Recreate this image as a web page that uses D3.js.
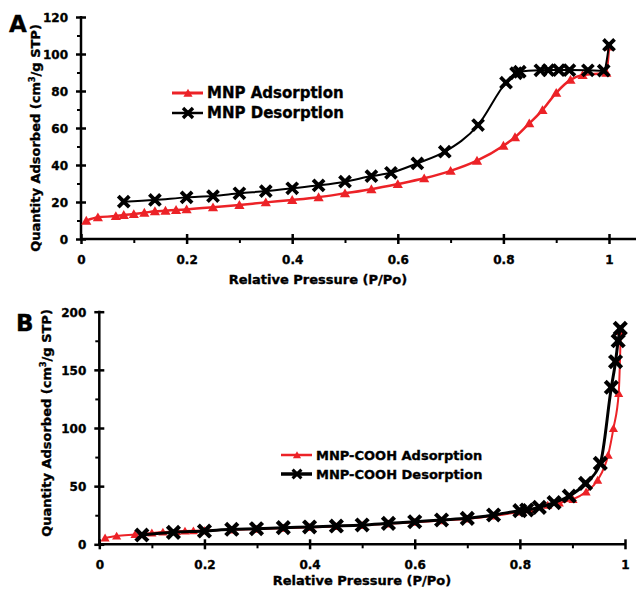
<!DOCTYPE html>
<html lang="en">
<head>
<meta charset="UTF-8">
<title>BET isotherms</title>
<script src="https://d3js.org/d3.v7.min.js"></script>
<style>
    html, body {
        margin: 0;
        padding: 0;
        background: #ffffff;
    }
    svg text {
        font-family: "DejaVu Sans", sans-serif;
        font-weight: bold;
        fill: #000;
        stroke: #000;
        stroke-width: 0.35px;
    }
</style>
</head>
<body>
<svg id="chart" width="636" height="589"></svg>
<script>
    // panel A: MNP
    const pA_ads = [0.01, 0.032, 0.066, 0.081, 0.1, 0.12, 0.14, 0.16, 0.18, 0.2, 0.25, 0.3, 0.35, 0.4, 0.45, 0.5, 0.55, 0.6, 0.65, 0.7, 0.75, 0.8, 0.822, 0.849, 0.874, 0.9, 0.927, 0.95, 0.995, 1.0];
    const qA_ads = [9.9, 11.7, 12.4, 13, 13.5, 14.2, 15, 15.3, 15.7, 16, 17.1, 18.4, 19.8, 21.1, 22.6, 24.7, 26.9, 29.7, 32.8, 36.8, 42.3, 50.4, 55, 62.5, 69.7, 79, 86, 88.6, 89.9, 104];
    const pA_des = [0.081, 0.14, 0.2, 0.25, 0.3, 0.35, 0.4, 0.45, 0.5, 0.55, 0.587, 0.637, 0.689, 0.752, 0.805, 0.824, 0.831, 0.87, 0.885, 0.905, 0.925, 0.96, 0.99, 1.0];
    const qA_des = [20.2, 21.1, 22.5, 23.2, 24.7, 25.9, 27.4, 29, 31, 34, 35.8, 40.9, 47.2, 61.6, 84.5, 89.6, 90.4, 91.2, 91.3, 91.3, 91.3, 91.2, 91, 104.9];

    // panel B: MNP-COOH
    const pB_ads = [0.011, 0.033, 0.068, 0.1, 0.121, 0.147, 0.163, 0.179, 0.2, 0.25, 0.3, 0.35, 0.4, 0.45, 0.5, 0.55, 0.6, 0.65, 0.7, 0.75, 0.8, 0.82, 0.853, 0.875, 0.901, 0.926, 0.948, 0.968, 0.978, 0.988, 0.992];
    const qB_ads = [5.5, 7.2, 8.5, 9.8, 10.6, 11.2, 11.5, 11.7, 11.8, 12.5, 13.1, 13.9, 14.6, 15.4, 16.3, 17.6, 19, 20.4, 21.8, 24.5, 28, 29.8, 33.8, 35.6, 38.7, 45.2, 55.3, 76.8, 99.7, 129.8, 183];
    const pB_des = [0.081, 0.141, 0.2, 0.252, 0.299, 0.35, 0.4, 0.451, 0.5, 0.55, 0.6, 0.651, 0.7, 0.75, 0.8, 0.813, 0.837, 0.865, 0.894, 0.925, 0.953, 0.974, 0.982, 0.987, 0.991];
    const qB_des = [8, 10.3, 11.4, 12.9, 13.4, 14.3, 14.9, 15.7, 16.6, 18, 19.4, 20.9, 22.3, 25.2, 28.9, 29.5, 31.8, 35.8, 41.5, 52.4, 69.6, 135, 157, 175, 185.7];

    const xMajor = [0, 0.2, 0.4, 0.6, 0.8, 1];
    const xMinor = [0.1, 0.3, 0.5, 0.7, 0.9];
    const yMajorA = [0, 20, 40, 60, 80, 100, 120];
    const yMinorA = [10, 30, 50, 70, 90, 110];
    const yMajorB = [0, 50, 100, 150, 200];
    const yMinorB = [25, 75, 125, 175];

    const legendA = ["MNP Adsorption", "MNP Desorption"];
    const legendB = ["MNP-COOH Adsorption", "MNP-COOH Desorption"];

    const RED = "#ec2227";
    const svg = d3.select("#chart");

    function zip(ps, qs) {
        return ps.map((p, i) => ({ p: p, q: qs[i] }));
    }

    function drawMarker(g, type, cx, cy, s) {
        if (type === "tri") {
            g.append("path")
                .attr("d", d3.symbol(d3.symbolTriangle, s * s * 0.45)())
                .attr("transform", `translate(${cx},${cy + 1})`)
                .attr("fill", RED);
        } else {
            const h = s * 0.42;
            g.append("path")
                .attr("d", `M${-h},${-h}L${h},${h}M${-h},${h}L${h},${-h}`)
                .attr("transform", `translate(${cx},${cy})`)
                .attr("stroke", "#000")
                .attr("stroke-width", s * 0.38)
                .attr("stroke-linecap", "square");
            g.append("rect")
                .attr("x", cx - s * 0.27).attr("y", cy - s * 0.27)
                .attr("width", s * 0.54).attr("height", s * 0.54)
                .attr("fill", "#000");
        }
    }

    function drawPanel(cfg) {
        const g = svg.append("g");
        const x = d3.scaleLinear().domain([0, 1]).range([cfg.x0, cfg.x1]);
        const y = d3.scaleLinear().domain([0, cfg.yMax]).range([cfg.y0, cfg.y1]);

        // x axis
        const xAxis = g.append("g").attr("transform", `translate(0,${cfg.y0})`)
            .call(d3.axisBottom(x).tickValues(xMajor).tickFormat(d => String(d)).tickSizeOuter(0));
        xAxis.select(".domain").remove();
        xAxis.selectAll(".tick line").attr("y1", -5).attr("y2", 5).attr("stroke-width", 2.5);
        xAxis.selectAll(".tick text").attr("y", cfg.xLabelDy).attr("dy", null)
            .attr("font-size", 12).style("font-family", "DejaVu Sans").style("font-weight", "bold");
        g.append("g").attr("transform", `translate(0,${cfg.y0})`)
            .call(d3.axisBottom(x).tickValues(xMinor).tickFormat("").tickSize(4).tickSizeOuter(0))
            .call(a => a.select(".domain").remove())
            .selectAll(".tick line").attr("stroke-width", 2);
        g.append("line")
            .attr("x1", cfg.x0 - 1).attr("x2", cfg.xEnd)
            .attr("y1", cfg.y0).attr("y2", cfg.y0)
            .attr("stroke", "#000").attr("stroke-width", 2.5);

        // y axis
        const yAxis = g.append("g").attr("transform", `translate(${cfg.x0},0)`)
            .call(d3.axisLeft(y).tickValues(cfg.yMajor).tickSizeOuter(0));
        yAxis.select(".domain").remove();
        yAxis.selectAll(".tick line").attr("x1", -5).attr("x2", 5).attr("stroke-width", 2.5);
        yAxis.selectAll(".tick text").attr("x", cfg.yLabelDx).attr("dy", "0.36em")
            .attr("font-size", 12).style("font-family", "DejaVu Sans").style("font-weight", "bold");
        g.append("g").attr("transform", `translate(${cfg.x0},0)`)
            .call(d3.axisLeft(y).tickValues(cfg.yMinor).tickFormat("").tickSize(4).tickSizeOuter(0))
            .call(a => a.select(".domain").remove())
            .selectAll(".tick line").attr("stroke-width", 2);
        g.append("line")
            .attr("x1", cfg.x0).attr("x2", cfg.x0)
            .attr("y1", cfg.y1 - 1).attr("y2", cfg.y0 + 1)
            .attr("stroke", "#000").attr("stroke-width", 2.5);

        // series
        const line = d3.line().x(d => x(d.p)).y(d => y(d.q)).curve(d3.curveMonotoneX);
        const ads = zip(cfg.pAds, cfg.qAds);
        const des = zip(cfg.pDes, cfg.qDes);
        g.append("path").datum(ads).attr("d", line)
            .attr("fill", "none").attr("stroke", RED).attr("stroke-width", cfg.redWidth);
        ads.forEach(d => drawMarker(g, "tri", x(d.p), y(d.q), cfg.triSize));
        g.append("path").datum(des).attr("d", line)
            .attr("fill", "none").attr("stroke", "#000").attr("stroke-width", cfg.blackWidth);
        des.forEach(d => drawMarker(g, "x", x(d.p), y(d.q), cfg.xSize));

        // legend
        cfg.legend.forEach((name, i) => {
            const ly = cfg.legY + i * cfg.legGap;
            const isAds = i === 0;
            g.append("line")
                .attr("x1", cfg.legX).attr("x2", cfg.legX + 31)
                .attr("y1", ly).attr("y2", ly)
                .attr("stroke", isAds ? RED : "#000")
                .attr("stroke-width", isAds ? cfg.redWidth + 0.5 : cfg.blackWidth + 0.5);
            drawMarker(g, isAds ? "tri" : "x", cfg.legX + 16, ly, cfg.legMarker);
            g.append("text")
                .attr("x", cfg.legX + 35).attr("y", ly)
                .attr("dy", "0.36em")
                .attr("font-size", cfg.legFont)
                .text(name);
        });

        // axis titles
        g.append("text")
            .attr("x", cfg.xTitleX).attr("y", cfg.xTitleY)
            .attr("text-anchor", "middle").attr("font-size", 13)
            .text("Relative Pressure (P/Po)");
        const yt = g.append("text")
            .attr("transform", `translate(${cfg.yTitleX},${cfg.yTitleY}) rotate(-90)`)
            .attr("text-anchor", "middle").attr("font-size", 13);
        yt.append("tspan").text("Quantity Adsorbed (cm");
        yt.append("tspan").attr("dy", -5).attr("font-size", 8).text("3");
        yt.append("tspan").attr("dy", 5).text("/g STP)");

        g.append("text")
            .attr("x", cfg.tagX).attr("y", cfg.tagY)
            .attr("font-size", 23)
            .text(cfg.tag);
    }

    drawPanel({
        tag: "A", tagX: 9, tagY: 32,
        x0: 81, x1: 609, xEnd: 636, y0: 239, y1: 17, yMax: 120,
        yMajor: yMajorA, yMinor: yMinorA,
        xLabelDy: 25, yLabelDx: -13,
        pAds: pA_ads, qAds: qA_ads, pDes: pA_des, qDes: qA_des,
        redWidth: 2.5, blackWidth: 2, triSize: 10, xSize: 10,
        legend: legendA, legX: 172, legY: 93, legGap: 20, legFont: 15, legMarker: 9,
        xTitleX: 318, xTitleY: 284, yTitleX: 40, yTitleY: 138
    });

    drawPanel({
        tag: "B", tagX: 16, tagY: 331,
        x0: 99.3, x1: 625, xEnd: 626, y0: 544.3, y1: 311.7, yMax: 200,
        yMajor: yMajorB, yMinor: yMinorB,
        xLabelDy: 25, yLabelDx: -13,
        pAds: pB_ads, qAds: qB_ads, pDes: pB_des, qDes: qB_des,
        redWidth: 2, blackWidth: 3, triSize: 9, xSize: 11,
        legend: legendB, legX: 281, legY: 455, legGap: 19, legFont: 13, legMarker: 8,
        xTitleX: 362, xTitleY: 585, yTitleX: 51, yTitleY: 423
    });
</script>
</body>
</html>
